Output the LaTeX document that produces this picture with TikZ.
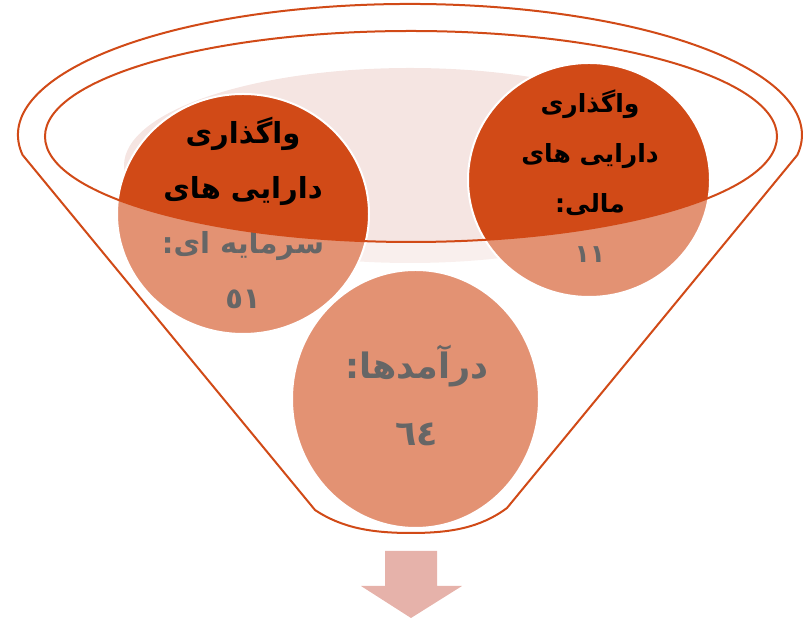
\documentclass[tikz,border=0pt]{standalone}
\usepackage{fontspec}
\newfontfamily\arabicfont[Script=Arabic]{DejaVu Sans}
\TeXXeTstate=1
\usepackage{tikz}
\usetikzlibrary{positioning}
\definecolor{rust}{RGB}{209,74,23}
\definecolor{blush}{RGB}{245,229,226}
\definecolor{rose}{RGB}{230,178,170}
\tikzstyle{bubble} = [fill=rust, draw=white, line width=2pt]
\tikzstyle{rim} = [draw=rust, line width=2pt]
\tikzstyle{bubbletext} = [align=center, text=black, inner sep=0pt]

\begin{document}
\begin{tikzpicture}[x=1pt, y=1pt]
			\useasboundingbox (0,0) rectangle (809,620);
			
			\fill [blush] (410,454.5) ellipse [x radius=286, y radius=97.5];
			\path [bubble] (589,440) ellipse [x radius=121, y radius=117];
			\path [bubble] (243,406) ellipse [x radius=126, y radius=120];
			\path [bubble] (415.5,221) ellipse [x radius=123.5, y radius=129];
			
			\node [bubbletext, font=\fontsize{29}{55}\selectfont\arabicfont\bfseries] (sarmaye) at (243,407)
				{\beginR واگذاری\endR\\ \beginR دارایی های\endR\\ \beginR سرمایه ای:\endR\\ \beginR ٥١\endR};
			\node [bubbletext, font=\fontsize{25}{50}\selectfont\arabicfont\bfseries] (mali) at (590,443.5)
				{\beginR واگذاری\endR\\ \beginR دارایی های\endR\\ \beginR مالی:\endR\\ \beginR ١١\endR};
			\node [bubbletext, font=\fontsize{35}{67}\selectfont\arabicfont\bfseries] (daramad) at (417,224.5)
				{\beginR درآمدها:\endR\\ \beginR ٦٤\endR};
			
			% front of the funnel
			\fill [white, fill opacity=0.4, even odd rule]
				(22.6,465) arc [start angle=188.8, end angle=-8.8, x radius=392, y radius=131]
				-- (507,112) .. controls (480,92) and (450,87) .. (411,87)
				.. controls (372,87) and (342,92) .. (315,110) -- cycle
				(411,483.5) ellipse [x radius=366, y radius=105.5];
			\path [rim] (22.6,465) arc [start angle=188.8, end angle=-8.8, x radius=392, y radius=131]
				-- (507,112) .. controls (480,92) and (450,87) .. (411,87)
				.. controls (372,87) and (342,92) .. (315,110) -- cycle;
			\path [rim] (411,483.5) ellipse [x radius=366, y radius=105.5];
			
			\fill [rose] (385,69) -- (437,69) -- (437,34) -- (462,34) -- (411,2) -- (361,34) -- (385,34) -- cycle;
		\end{tikzpicture}
\end{document}
